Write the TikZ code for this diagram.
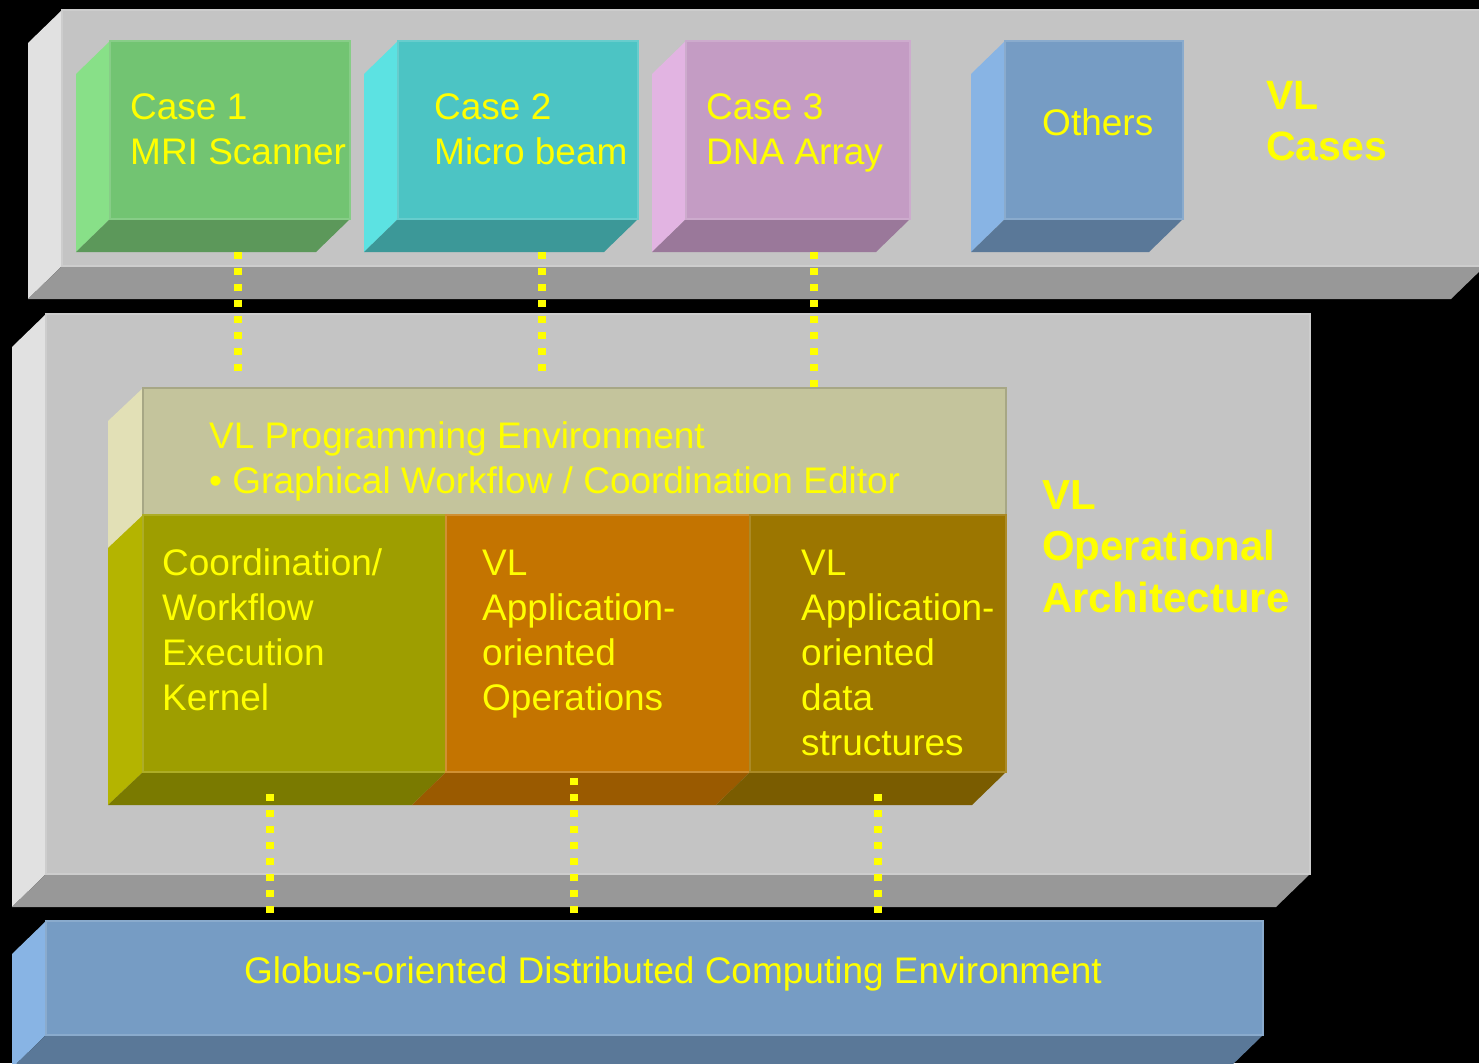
\documentclass[tikz,border=0pt]{standalone}
\usepackage{fontspec}
\setmainfont{Liberation Sans}
\definecolor{vlyellow}{HTML}{FFFF00}
\definecolor{pnlF}{HTML}{C4C4C4}\definecolor{pnlL}{HTML}{E1E1E1}\definecolor{pnlB}{HTML}{989898}
\definecolor{c1F}{HTML}{72C472}\definecolor{c1L}{HTML}{88E088}\definecolor{c1B}{HTML}{5C985A}
\definecolor{c2F}{HTML}{4CC4C4}\definecolor{c2L}{HTML}{5CE2E2}\definecolor{c2B}{HTML}{3C9898}
\definecolor{c3F}{HTML}{C49CC4}\definecolor{c3L}{HTML}{E2B4E2}\definecolor{c3B}{HTML}{9A789A}
\definecolor{blF}{HTML}{769CC4}\definecolor{blL}{HTML}{88B4E4}\definecolor{blB}{HTML}{5A7898}
\definecolor{peF}{HTML}{C4C49C}\definecolor{peL}{HTML}{E2E0B6}
\definecolor{olF}{HTML}{9E9E00}\definecolor{olL}{HTML}{B4B400}\definecolor{olB}{HTML}{7A7A00}
\definecolor{orF}{HTML}{C47400}\definecolor{orB}{HTML}{9A5A00}
\definecolor{brF}{HTML}{9C7600}\definecolor{brB}{HTML}{7A5C00}
\newcommand\lines[1]{{\renewcommand\arraystretch{1}\begin{tabular}[t]{@{}l@{}}#1\end{tabular}}}
% front box x1 y1 x2 y2, colours front left bottom
\newcommand\vlcube[7]{%
  \fill[#6] (#1,#2) -- (#1-34,#2+33) -- (#1-34,#4+33) -- (#1,#4) -- cycle;
  \fill[#7] (#1,#4) -- (#3,#4) -- (#3-34,#4+33) -- (#1-34,#4+33) -- cycle;
  \fill[#5] (#1,#2) rectangle (#3,#4);
  \draw[#5!85!white, line width=1.5pt] (#1,#2) rectangle (#3,#4);}
\begin{document}
\begin{tikzpicture}[x=1pt,y=-1pt,
  lbl/.style={text=vlyellow, inner sep=0pt, font=\fontsize{37}{45}\selectfont},
  ttl/.style={text=vlyellow, inner sep=0pt, font=\fontsize{42}{51.5}\selectfont\bfseries},
  vdots/.style={draw=vlyellow, line width=8pt, dash pattern=on 7pt off 9pt}]
\fill[black] (0,0) rectangle (1479,1063);
\useasboundingbox (0,0) rectangle (1479,1063);
\clip (0,0) rectangle (1479,1063);
% panels
\vlcube{62}{10}{1485}{266}{pnlF}{pnlL}{pnlB}
\vlcube{46}{314}{1310}{874}{pnlF}{pnlL}{pnlB}
\vlcube{46}{921}{1263}{1035}{blF}{blL}{blB}
% cases
\vlcube{110}{41}{350}{219}{c1F}{c1L}{c1B}
\vlcube{398}{41}{638}{219}{c2F}{c2L}{c2B}
\vlcube{686}{41}{910}{219}{c3F}{c3L}{c3B}
\vlcube{1005}{41}{1183}{219}{blF}{blL}{blB}
% inner block
\fill[peL] (143,388) -- (108,421) -- (108,548) -- (143,515) -- cycle;
\fill[olL] (143,515) -- (108,548) -- (108,805) -- (143,772) -- cycle;
\fill[olB] (143,772) -- (446,772) -- (412,805) -- (108,805) -- cycle;
\fill[orB] (446,772) -- (750,772) -- (716,805) -- (412,805) -- cycle;
\fill[brB] (750,772) -- (1006,772) -- (972,805) -- (716,805) -- cycle;
\fill[peF] (143,388) rectangle (1006,515);
\draw[peF!85!black, line width=1.5pt] (143,388) rectangle (1006,515);
\fill[olF] (143,515) rectangle (446,772);
\draw[olF!85!white, line width=1.5pt] (143,515) rectangle (446,772);
\fill[orF] (446,515) rectangle (750,772);
\draw[orF!80!white, line width=1.5pt] (446,515) rectangle (750,772);
\fill[brF] (750,515) rectangle (1006,772);
\draw[brF!85!white, line width=1.5pt] (750,515) rectangle (1006,772);
% texts
\node[lbl, anchor=base west] (case1) at (130,119) {\lines{Case 1\\MRI Scanner}};
\node[lbl, anchor=base west] (case2) at (434,119) {\lines{Case 2\\Micro beam}};
\node[lbl, anchor=base west] (case3) at (706,119) {\lines{Case 3\\DNA Array}};
\node[lbl, anchor=base west] (others) at (1042,135) {Others};
\node[ttl, anchor=base west, font=\fontsize{41}{51}\selectfont\bfseries] (vlcases) at (1266,109) {\lines{VL\\Cases}};
\node[ttl, anchor=base west] (vlarch) at (1042,509) {\lines{VL\\Operational\\Architecture}};
\node[lbl, anchor=base west] (progenv) at (209,448) {\lines{VL Programming Environment\\• Graphical Workflow / Coordination Editor}};
\node[lbl, anchor=base west] (coord) at (162,575) {\lines{Coordination/\\Workflow\\Execution\\Kernel}};
\node[lbl, anchor=base west] (appops) at (482,575) {\lines{VL\\Application-\\oriented\\Operations}};
\node[lbl, anchor=base west] (appdata) at (801,575) {\lines{VL\\Application-\\oriented\\data\\structures}};
\node[lbl, anchor=base] (globus) at (673,983) {Globus-oriented Distributed Computing Environment};
% connector ends
\coordinate (c1s) at (238,252); \coordinate (c1e) at (238,371);
\coordinate (c2s) at (542,252); \coordinate (c2e) at (542,371);
\coordinate (c3s) at (814,252); \coordinate (c3e) at (814,387);
\coordinate (k1s) at (270,794); \coordinate (k1e) at (270,913);
\coordinate (k2s) at (574,778); \coordinate (k2e) at (574,913);
\coordinate (k3s) at (878,794); \coordinate (k3e) at (878,913);
\draw[vdots] (c1s) -- (c1e);
\draw[vdots] (c2s) -- (c2e);
\draw[vdots] (c3s) -- (c3e);
\draw[vdots] (k1s) -- (k1e);
\draw[vdots] (k2s) -- (k2e);
\draw[vdots] (k3s) -- (k3e);
\end{tikzpicture}
\end{document}
